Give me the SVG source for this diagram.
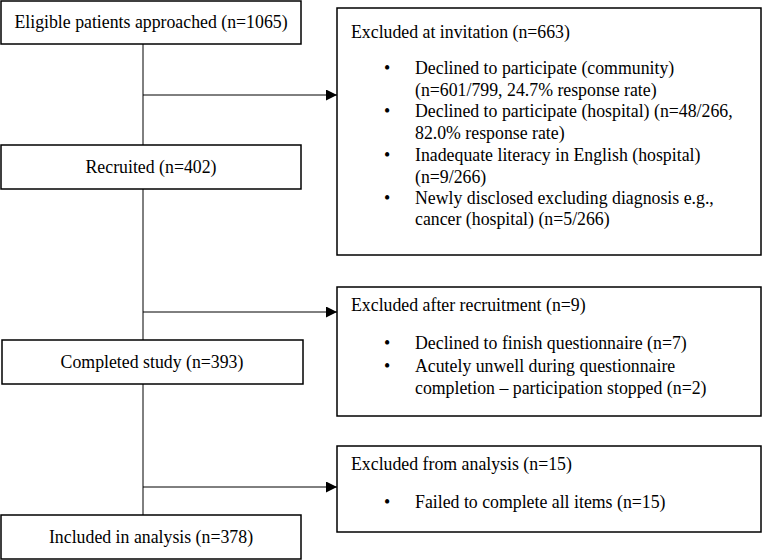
<svg xmlns="http://www.w3.org/2000/svg" width="762" height="560" viewBox="0 0 762 560">
<style>
.box{fill:#fff;stroke:#000;stroke-width:1.5}
text{font-family:'Liberation Serif','Times New Roman',serif;font-size:17.8px;fill:#000}
.c{text-anchor:middle}
.b{text-anchor:middle}
.ln{stroke:#000;stroke-width:1;fill:none}
</style>
<defs>
<marker id="ah" viewBox="0 0 10 10" refX="10" refY="5" markerWidth="11" markerHeight="11" markerUnits="userSpaceOnUse" orient="auto">
<path d="M0,0 L10,5 L0,10 Z" fill="#000"/>
</marker>
</defs>
<rect width="762" height="560" fill="#fff"/>
<g id="connectors">
<line class="ln" x1="143" y1="44" x2="143" y2="145"/>
<line class="ln" x1="143" y1="189" x2="143" y2="340"/>
<line class="ln" x1="143" y1="384" x2="143" y2="515"/>
<line class="ln" x1="143" y1="95" x2="337" y2="95" marker-end="url(#ah)"/>
<line class="ln" x1="143" y1="312" x2="337" y2="312" marker-end="url(#ah)"/>
<line class="ln" x1="143" y1="487" x2="337" y2="487" marker-end="url(#ah)"/>
</g>
<g id="n1">
<rect class="box" x="1" y="1" width="300" height="43"/>
<text class="c" x="151" y="28">Eligible patients approached (n=1065)</text>
</g>
<g id="n2">
<rect class="box" x="1" y="145" width="300" height="44"/>
<text class="c" x="151" y="173">Recruited (n=402)</text>
</g>
<g id="n3">
<rect class="box" x="2" y="340" width="301" height="44"/>
<text class="c" x="152" y="368">Completed study (n=393)</text>
</g>
<g id="n4">
<rect class="box" x="1" y="515" width="300" height="44"/>
<text class="c" x="151" y="543">Included in analysis (n=378)</text>
</g>
<g id="e1">
<rect class="box" x="337" y="8" width="424" height="247"/>
<text x="351" y="38">Excluded at invitation (n=663)</text>
<text class="b" x="387" y="74">•</text><text x="415" y="74">Declined to participate (community)</text>
<text x="415" y="96">(n=601/799, 24.7% response rate)</text>
<text class="b" x="387" y="117">•</text><text x="415" y="117">Declined to participate (hospital) (n=48/266,</text>
<text x="415" y="139">82.0% response rate)</text>
<text class="b" x="387" y="161">•</text><text x="415" y="161">Inadequate literacy in English (hospital)</text>
<text x="415" y="183">(n=9/266)</text>
<text class="b" x="387" y="204">•</text><text x="415" y="204">Newly disclosed excluding diagnosis e.g.,</text>
<text x="415" y="225">cancer (hospital) (n=5/266)</text>
</g>
<g id="e2">
<rect class="box" x="337" y="287" width="424" height="129"/>
<text x="351" y="311">Excluded after recruitment (n=9)</text>
<text class="b" x="387" y="349">•</text><text x="415" y="349">Declined to finish questionnaire (n=7)</text>
<text class="b" x="387" y="372">•</text><text x="415" y="372">Acutely unwell during questionnaire</text>
<text x="415" y="394">completion – participation stopped (n=2)</text>
</g>
<g id="e3">
<rect class="box" x="337" y="446" width="424" height="86"/>
<text x="351" y="470">Excluded from analysis (n=15)</text>
<text class="b" x="387" y="508">•</text><text x="415" y="508">Failed to complete all items (n=15)</text>
</g>
</svg>
